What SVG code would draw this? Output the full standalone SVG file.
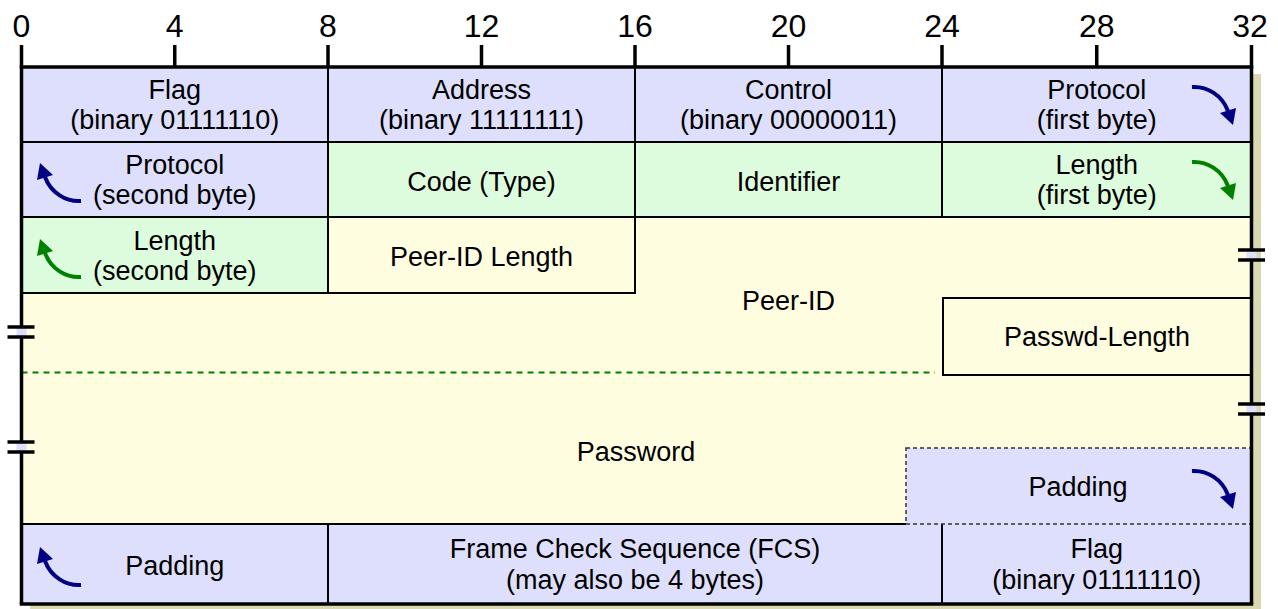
<svg xmlns="http://www.w3.org/2000/svg" width="1278" height="609" viewBox="0 0 1278 609">
<defs>
<style>
.t{font-family:"Liberation Sans",Arial,sans-serif;font-size:27px;fill:#000;text-anchor:middle}
.n{font-family:"Liberation Sans",Arial,sans-serif;font-size:32px;fill:#000;text-anchor:middle}
.lav{fill:#dddffc}
.grn{fill:#ddfbdd}
.yel{fill:#fffde0}
.cell{stroke:#000;stroke-width:2}
.frame{stroke:#000;stroke-width:3.5;fill:none}
.tick{stroke:#000;stroke-width:3.5}
.brk{stroke:#000;stroke-width:3.5}
.ln{stroke:#000;stroke-width:2;fill:none}
.navy{fill:none;stroke:#000080;stroke-width:4}
.navyh{fill:#000080}
.green{fill:none;stroke:#008000;stroke-width:4}
.greenh{fill:#008000}
</style>
<g id="arrowNavy"><path class="navy" d="M0,0 C15,-1 30,8 36,24"/><path class="navyh" d="M41,38 L28,26 L44,21 Z"/></g>
<g id="arrowGreen"><path class="green" d="M0,0 C15,-1 30,8 36,24"/><path class="greenh" d="M41,38 L28,26 L44,21 Z"/></g>
</defs>

<rect id="shadow" x="30" y="74" width="1231" height="540" fill="#dad8b0"/>
<rect id="background" x="21.5" y="67" width="1230" height="537" class="yel"/>

<g id="row1">
<g id="flag1"><rect x="21.5" y="67" width="306.5" height="75" class="lav cell"/><text class="t" x="174.75" y="99">Flag</text><text class="t" x="174.75" y="129">(binary 01111110)</text></g>
<g id="address"><rect x="328" y="67" width="307" height="75" class="lav cell"/><text class="t" x="481.5" y="99">Address</text><text class="t" x="481.5" y="129">(binary 11111111)</text></g>
<g id="control"><rect x="635" y="67" width="307" height="75" class="lav cell"/><text class="t" x="788.5" y="99">Control</text><text class="t" x="788.5" y="129">(binary 00000011)</text></g>
<g id="protocol1"><rect x="942" y="67" width="309.5" height="75" class="lav cell"/><text class="t" x="1096.75" y="99">Protocol</text><text class="t" x="1096.75" y="129">(first byte)</text></g>
</g>

<g id="row2">
<g id="protocol2"><rect x="21.5" y="142" width="306.5" height="75" class="lav cell"/><text class="t" x="174.75" y="174">Protocol</text><text class="t" x="174.75" y="204">(second byte)</text></g>
<g id="code"><rect x="328" y="142" width="307" height="75" class="grn cell"/><text class="t" x="481.5" y="191">Code (Type)</text></g>
<g id="identifier"><rect x="635" y="142" width="307" height="75" class="grn cell"/><text class="t" x="788.5" y="191">Identifier</text></g>
<g id="length1"><rect x="942" y="142" width="309.5" height="75" class="grn cell"/><text class="t" x="1096.75" y="174">Length</text><text class="t" x="1096.75" y="204">(first byte)</text></g>
</g>

<g id="row3">
<g id="length2"><rect x="21.5" y="217" width="306.5" height="76" class="grn cell"/><text class="t" x="174.75" y="250">Length</text><text class="t" x="174.75" y="280">(second byte)</text></g>
<g id="peerIdLength"><rect x="328" y="217" width="307" height="76" class="yel cell"/><text class="t" x="481.5" y="266">Peer-ID Length</text></g>
</g>

<g id="peerId"><text class="t" x="788.5" y="310">Peer-ID</text></g>
<line id="peerIdEnd" x1="21.5" y1="372.5" x2="935" y2="372.5" stroke="#008000" stroke-width="2" stroke-dasharray="6,5"/>
<g id="passwdLength"><rect x="943" y="298" width="308.5" height="77" class="yel cell"/><text class="t" x="1097" y="346">Passwd-Length</text></g>
<g id="password"><text class="t" x="636" y="461">Password</text></g>

<g id="row-bottom">
<rect x="21.5" y="524" width="1230" height="80" class="lav"/>
<line class="ln" x1="21.5" y1="524" x2="906" y2="524"/>
<line class="ln" x1="328" y1="524" x2="328" y2="604"/>
<line class="ln" x1="942" y1="524" x2="942" y2="604"/>
<g id="padding2"><text class="t" x="174.75" y="575">Padding</text></g>
<g id="fcs"><text class="t" x="635" y="558">Frame Check Sequence (FCS)</text><text class="t" x="635" y="589">(may also be 4 bytes)</text></g>
<g id="flag2"><text class="t" x="1096.75" y="558">Flag</text><text class="t" x="1096.75" y="589">(binary 01111110)</text></g>
</g>

<g id="padding1"><rect x="906" y="448" width="345.5" height="76" class="lav" stroke="#333" stroke-width="1.5" stroke-dasharray="4,3"/><text class="t" x="1078" y="496">Padding</text></g>

<g id="frame">
<line class="frame" x1="21.5" y1="45" x2="21.5" y2="604"/>
<line class="frame" x1="1251.5" y1="45" x2="1251.5" y2="604"/>
<line class="frame" x1="19.75" y1="67" x2="1253.25" y2="67"/>
<line class="frame" x1="19.75" y1="604" x2="1253.25" y2="604"/>
<line class="tick" x1="174.75" y1="45" x2="174.75" y2="67"/>
<line class="tick" x1="328" y1="45" x2="328" y2="67"/>
<line class="tick" x1="481.5" y1="45" x2="481.5" y2="67"/>
<line class="tick" x1="635" y1="45" x2="635" y2="67"/>
<line class="tick" x1="788.5" y1="45" x2="788.5" y2="67"/>
<line class="tick" x1="942" y1="45" x2="942" y2="67"/>
<line class="tick" x1="1096.75" y1="45" x2="1096.75" y2="67"/>
</g>

<g id="scale">
<text class="n" x="21.5" y="37">0</text>
<text class="n" x="174.75" y="37">4</text>
<text class="n" x="328" y="37">8</text>
<text class="n" x="481.5" y="37">12</text>
<text class="n" x="635" y="37">16</text>
<text class="n" x="788.5" y="37">20</text>
<text class="n" x="942" y="37">24</text>
<text class="n" x="1096.75" y="37">28</text>
<text class="n" x="1250" y="37">32</text>
</g>

<g id="breaks">
<rect x="16.5" y="328" width="10" height="8" class="lav"/><line class="brk" x1="7.5" y1="327" x2="34.5" y2="327"/><line class="brk" x1="7.5" y1="337" x2="34.5" y2="337"/>
<rect x="16.5" y="443" width="10" height="8" class="lav"/><line class="brk" x1="7.5" y1="442" x2="34.5" y2="442"/><line class="brk" x1="7.5" y1="452" x2="34.5" y2="452"/>
<rect x="1246.5" y="251" width="10" height="8" class="lav"/><line class="brk" x1="1238" y1="250" x2="1265" y2="250"/><line class="brk" x1="1238" y1="260" x2="1265" y2="260"/>
<rect x="1246.5" y="405" width="10" height="8" class="lav"/><line class="brk" x1="1238" y1="404" x2="1265" y2="404"/><line class="brk" x1="1238" y1="414" x2="1265" y2="414"/>
</g>

<g id="connectors">
<use href="#arrowNavy" transform="translate(1192,87)"/>
<use href="#arrowGreen" transform="translate(1192,162)"/>
<use href="#arrowNavy" transform="translate(1192,471)"/>
<use href="#arrowNavy" transform="translate(81,201) rotate(180)"/>
<use href="#arrowGreen" transform="translate(81,277) rotate(180)"/>
<use href="#arrowNavy" transform="translate(81,585) rotate(180)"/>
</g>
</svg>
